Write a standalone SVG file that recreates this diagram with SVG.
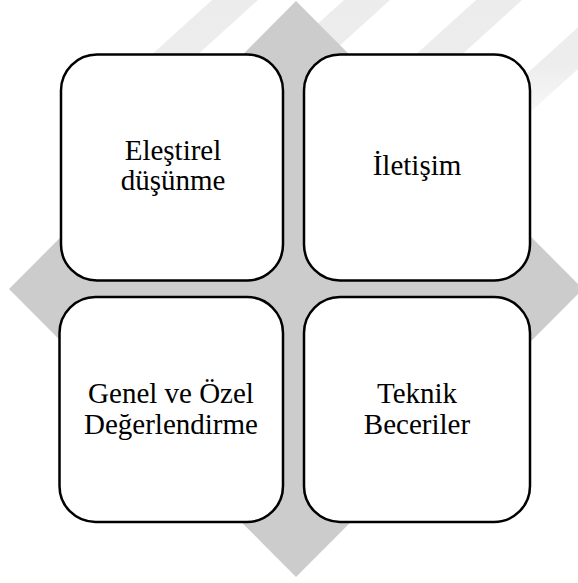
<svg xmlns="http://www.w3.org/2000/svg" width="578" height="583" viewBox="0 0 578 583">
  <defs>
    <linearGradient id="fade" gradientUnits="userSpaceOnUse" x1="0" y1="0" x2="0" y2="145">
      <stop offset="0" stop-color="#ECECEC"/>
      <stop offset="0.45" stop-color="#EDEDED"/>
      <stop offset="1" stop-color="#FFFFFF"/>
    </linearGradient>
    <style>
      .box { fill: #FFFFFF; stroke: #000000; stroke-width: 2.5; }
      .stripe { fill: url(#fade); }
    </style>
  </defs>
  <rect width="578" height="583" fill="#FFFFFF"/>
  <g id="watermark">
    <polygon class="stripe" points="212,0 258,0 98,145 52,145"/>
    <polygon class="stripe" points="344,0 390,0 230,145 184,145"/>
    <polygon class="stripe" points="476,0 522,0 362,145 316,145"/>
    <polygon class="stripe" points="608,0 654,0 494,145 448,145"/>
  </g>
  <polygon id="diamond" points="296,1 583,289 296,577 9,289" fill="#CCCCCC"/>
  <g id="connectors"></g>
  <g id="node-elestirel">
    <rect class="box" x="61" y="54.5" width="222" height="226" rx="36" ry="36"/>
    <text x="173" y="160" font-family="Liberation Serif, serif" font-size="29" text-anchor="middle" fill="#000000">Eleştirel</text>
    <text x="173" y="190" font-family="Liberation Serif, serif" font-size="29" text-anchor="middle" fill="#000000">düşünme</text>
  </g>
  <g id="node-iletisim">
    <rect class="box" x="304" y="54.5" width="226" height="226" rx="36" ry="36"/>
    <text x="417" y="175" font-family="Liberation Serif, serif" font-size="29" text-anchor="middle" fill="#000000">İletişim</text>
  </g>
  <g id="node-genel">
    <rect class="box" x="59.5" y="297" width="223.5" height="225" rx="36" ry="36"/>
    <text x="171" y="403" font-family="Liberation Serif, serif" font-size="29" text-anchor="middle" fill="#000000">Genel ve Özel</text>
    <text x="171" y="434" font-family="Liberation Serif, serif" font-size="29" text-anchor="middle" fill="#000000">Değerlendirme</text>
  </g>
  <g id="node-teknik">
    <rect class="box" x="304" y="297" width="226" height="225" rx="36" ry="36"/>
    <text x="417" y="403" font-family="Liberation Serif, serif" font-size="29" text-anchor="middle" fill="#000000">Teknik</text>
    <text x="417" y="434" font-family="Liberation Serif, serif" font-size="29" text-anchor="middle" fill="#000000">Beceriler</text>
  </g>
</svg>
